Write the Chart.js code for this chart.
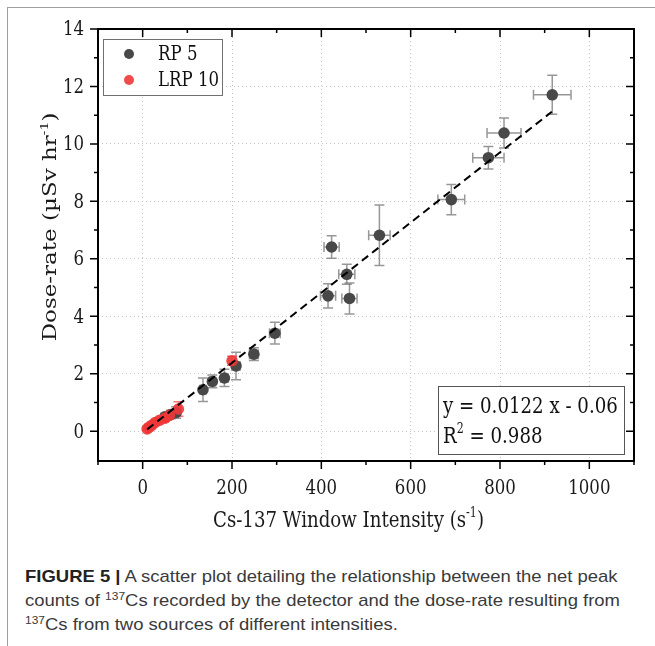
<!DOCTYPE html>
<html lang="en">
<head>
<meta charset="UTF-8">
<script src="https://cdn.jsdelivr.net/npm/chart.js"></script>
<title>Figure 5</title>
<style>
  body { margin: 0; background: #fff; width: 655px; height: 646px; overflow: hidden; position: relative; }
  #plot { position: absolute; left: 0; top: 0; }
  .edge { position: absolute; left: 7px; top: 7px; width: 700px; height: 700px; border-left: 1px solid #a0a0a0; border-top: 1px solid #a0a0a0; }
  #caption { position: absolute; left: 25px; top: 565px; font-family: "Liberation Sans", sans-serif; font-size: 17px; line-height: 24px; color: #3a3a3a; transform-origin: 0 0; white-space: nowrap; }
  #caption b { color: #222; }
  #caption sup { font-size: 11px; line-height: 0; vertical-align: 6px; }
</style>
</head>
<body>
<div class="edge"></div>
<canvas id="plot" width="655" height="545"></canvas>
<div id="caption">
  <div id="cap1"><b>FIGURE 5 |</b> A scatter plot detailing the relationship between the net peak</div>
  <div>counts of <sup>137</sup>Cs recorded by the detector and the dose-rate resulting from</div>
  <div><sup>137</sup>Cs from two sources of different intensities.</div>
</div>
<script>
// axis ticks
const xTickVals = [0, 200, 400, 600, 800, 1000];
const xMinorVals = [-100, 100, 300, 500, 700, 900, 1100];
const yTickVals = [0, 2, 4, 6, 8, 10, 12, 14];
const yMinorVals = [1, 3, 5, 7, 9, 11, 13];

// RP 5 source
const rpX = [917, 809, 774, 691, 530, 423, 457, 415, 463, 296, 249, 209, 183, 156, 135, 75, 63, 50];
const rpY = [11.71, 10.38, 9.52, 8.06, 6.82, 6.41, 5.46, 4.71, 4.62, 3.41, 2.68, 2.27, 1.85, 1.73, 1.44, 0.65, 0.58, 0.50];
const rpXErr = [42, 38, 35, 30, 24, 17, 18, 17, 17, 12, 10, 9, 8, 7, 7, 5, 5, 4];
const rpYErr = [0.68, 0.52, 0.39, 0.53, 1.05, 0.39, 0.35, 0.42, 0.54, 0.38, 0.22, 0.48, 0.30, 0.22, 0.41, 0.20, 0.15, 0.12];

// LRP 10 source
const lrpX = [200, 80, 60, 50, 38, 28, 20, 14, 10];
const lrpY = [2.45, 0.77, 0.55, 0.45, 0.38, 0.30, 0.20, 0.13, 0.08];
const lrpXErr = [6, 5, 4, 3, 3, 3, 2, 2, 2];
const lrpYErr = [0.16, 0.25, 0.10, 0.10, 0.08, 0.08, 0.06, 0.05, 0.05];

// fitted line, ends
const fitX = [10, 916];
const fitY = [0.06, 11.12];

const GRAY = '#484848';
const RED = 'rgba(240, 55, 55, 0.9)';
const SERIF = '"DejaVu Serif", serif';
const SX = 0.79; // the figure text is squeezed sideways

function pts(xs, ys) { return xs.map((x, i) => ({ x: x, y: ys[i] })); }

function runsWidth(ctx, runs, size) {
  let w = 0;
  runs.forEach(r => {
    ctx.font = (r[1] ? Math.round(size * 0.62) : size) + 'px ' + SERIF;
    w += ctx.measureText(r[0]).width;
  });
  return w;
}

function drawRuns(ctx, runs, x, y, size, align, rotated) {
  const w = runsWidth(ctx, runs, size);
  ctx.save();
  ctx.translate(x, y);
  ctx.scale(SX, 1);
  let cx = 0;
  if (rotated) { ctx.rotate(-Math.PI / 2); cx = -w / 2; }
  else if (align === 'center') cx = -w / 2;
  else if (align === 'right') cx = -w;
  ctx.textAlign = 'left';
  runs.forEach(r => {
    ctx.font = (r[1] ? Math.round(size * 0.62) : size) + 'px ' + SERIF;
    ctx.fillText(r[0], cx, r[1] ? -size * 0.42 : 0);
    cx += ctx.measureText(r[0]).width;
  });
  ctx.restore();
}

const errorBars = {
  id: 'errorBars',
  beforeDatasetsDraw(chart) {
    const ctx = chart.ctx, xs = chart.scales.x, ys = chart.scales.y;
    const sets = [[rpX, rpY, rpXErr, rpYErr, 'rgba(125,125,125,0.8)'],
                  [lrpX, lrpY, lrpXErr, lrpYErr, 'rgba(240,70,70,0.75)']];
    const cap = 5;
    ctx.save();
    ctx.lineWidth = 1.5;
    sets.forEach(s => {
      ctx.strokeStyle = s[4];
      s[0].forEach((xv, i) => {
        const px = xs.getPixelForValue(xv), py = ys.getPixelForValue(s[1][i]);
        const x1 = xs.getPixelForValue(xv - s[2][i]), x2 = xs.getPixelForValue(xv + s[2][i]);
        const y1 = ys.getPixelForValue(s[1][i] + s[3][i]), y2 = ys.getPixelForValue(s[1][i] - s[3][i]);
        ctx.beginPath();
        ctx.moveTo(px, y1); ctx.lineTo(px, y2);
        ctx.moveTo(px - cap, y1); ctx.lineTo(px + cap, y1);
        ctx.moveTo(px - cap, y2); ctx.lineTo(px + cap, y2);
        ctx.moveTo(x1, py); ctx.lineTo(x2, py);
        ctx.moveTo(x1, py - cap); ctx.lineTo(x1, py + cap);
        ctx.moveTo(x2, py - cap); ctx.lineTo(x2, py + cap);
        ctx.stroke();
      });
    });
    ctx.restore();
  }
};

const frameAndText = {
  id: 'frameAndText',
  afterDraw(chart) {
    const ctx = chart.ctx, a = chart.chartArea, xs = chart.scales.x, ys = chart.scales.y;
    ctx.save();
    ctx.strokeStyle = '#000';
    ctx.lineWidth = 2;
    ctx.strokeRect(a.left, a.top, a.right - a.left, a.bottom - a.top);

    // ticks: out on bottom/left, in on top/right
    ctx.lineWidth = 1.5;
    ctx.beginPath();
    const tick = (list, len) => list.forEach(v => {
      const p = xs.getPixelForValue(v);
      if (p < a.left - 1 || p > a.right + 1) return;
      ctx.moveTo(p, a.bottom); ctx.lineTo(p, a.bottom + len);
      ctx.moveTo(p, a.top); ctx.lineTo(p, a.top + len);
    });
    tick(xTickVals, 8); tick(xMinorVals, 4);
    const ytick = (list, len) => list.forEach(v => {
      const p = ys.getPixelForValue(v);
      ctx.moveTo(a.left, p); ctx.lineTo(a.left - len, p);
      ctx.moveTo(a.right, p); ctx.lineTo(a.right - len, p);
    });
    ytick(yTickVals, 8); ytick(yMinorVals, 4);
    ctx.stroke();

    // tick labels
    ctx.fillStyle = '#1a1a1a';
    ctx.textBaseline = 'alphabetic';
    xTickVals.forEach(v => drawRuns(ctx, [[String(v)]], xs.getPixelForValue(v), 494, 21, 'center'));
    ctx.textBaseline = 'middle';
    yTickVals.forEach(v => drawRuns(ctx, [[String(v)]], 84, ys.getPixelForValue(v) + 1, 21, 'right'));

    // axis titles
    ctx.textBaseline = 'alphabetic';
    drawRuns(ctx, [['Cs-137 Window Intensity (s'], ['-1', true], [')']], 213, 527, 23, 'left');
    drawRuns(ctx, [['Dose-rate (\u00b5Sv hr'], ['-1', true], [')']], 56, 227, 23, 'left', true);

    // legend
    ctx.fillStyle = '#fff';
    ctx.fillRect(103, 39, 119, 56);
    ctx.strokeStyle = '#707070';
    ctx.lineWidth = 1;
    ctx.strokeRect(103.5, 39.5, 119, 56);
    [[GRAY, 'RP 5', 54], [RED, 'LRP 10', 80]].forEach(l => {
      ctx.fillStyle = l[0];
      ctx.beginPath(); ctx.arc(129, l[2], 5, 0, Math.PI * 2); ctx.fill();
      ctx.fillStyle = '#111';
      ctx.textBaseline = 'middle';
      drawRuns(ctx, [[l[1]]], 158, l[2] + 1, 21, 'left');
    });

    // fit box
    ctx.fillStyle = '#fff';
    ctx.fillRect(438, 386, 186, 68);
    ctx.strokeStyle = '#555';
    ctx.strokeRect(438.5, 386.5, 186, 68);
    ctx.fillStyle = '#111';
    ctx.textBaseline = 'alphabetic';
    drawRuns(ctx, [['y = 0.0122 x - 0.06']], 443, 413, 23, 'left');
    drawRuns(ctx, [['R'], ['2', true], [' = 0.988']], 443, 443, 23, 'left');
    ctx.restore();
  }
};

new Chart(document.getElementById('plot'), {
  type: 'scatter',
  data: {
    datasets: [
      {
        type: 'line', label: 'fit', data: pts(fitX, fitY),
        borderColor: '#000', borderWidth: 2, borderDash: [8, 5],
        pointRadius: 0, fill: false, order: 0
      },
      {
        label: 'LRP 10', data: pts(lrpX, lrpY),
        backgroundColor: RED, borderColor: RED, pointRadius: 5.8, borderWidth: 0, order: 1
      },
      {
        label: 'RP 5', data: pts(rpX, rpY),
        backgroundColor: GRAY, borderColor: GRAY, pointRadius: 5.8, borderWidth: 0, order: 2
      }
    ]
  },
  options: {
    responsive: false,
    animation: false,
    devicePixelRatio: 1,
    layout: { padding: { left: 0, top: 29, right: 21, bottom: 0 } },
    plugins: { legend: { display: false }, tooltip: { enabled: false } },
    scales: {
      x: {
        type: 'linear', min: -100, max: 1100,
        afterBuildTicks: s => { s.ticks = xTickVals.map(v => ({ value: v })); },
        afterFit: s => { s.height = 84; },
        ticks: { display: false },
        grid: { color: '#c4c4c4', lineWidth: 1, drawTicks: false },
        border: { display: false, dash: [1, 3] }
      },
      y: {
        type: 'linear', min: -1.04, max: 14,
        afterBuildTicks: s => { s.ticks = yTickVals.map(v => ({ value: v })); },
        afterFit: s => { s.width = 98; },
        ticks: { display: false },
        grid: { color: '#c4c4c4', lineWidth: 1, drawTicks: false },
        border: { display: false, dash: [1, 3] }
      }
    }
  },
  plugins: [errorBars, frameAndText]
});

// squeeze the caption to the width of the printed figure
const cap = document.getElementById('caption');
const w1 = document.getElementById('cap1').getBoundingClientRect().width;
cap.style.transform = 'scaleX(' + (595 / w1) + ')';
</script>
</body>
</html>
